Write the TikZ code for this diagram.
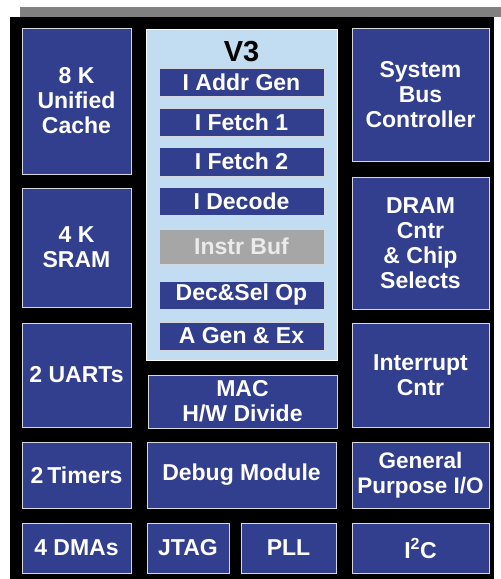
\documentclass[tikz,border=0pt]{standalone}
\usepackage{fontspec}
\setmainfont{Liberation Sans}
\definecolor{blkblue}{RGB}{50,62,142}
\definecolor{v3blue}{RGB}{194,221,241}
\definecolor{bargray}{RGB}{128,128,128}
\definecolor{bufgray}{RGB}{166,166,166}
\definecolor{edgegray}{RGB}{215,215,222}
\begin{document}
\begin{tikzpicture}[x=1pt,y=-1pt,
  blk/.style={draw=edgegray, line width=1pt, fill=blkblue, text=white, inner sep=0pt,
    align=center, font=\fontsize{23}{25}\selectfont\bfseries},
  stage/.style={blk, minimum width=165pt, minimum height=28pt},
  v3box/.style={draw=white, line width=1pt, fill=v3blue, inner sep=0pt}]
\useasboundingbox (0,0) rectangle (501,579);
\fill[white] (0,0) rectangle (501,579);
\fill[bargray] (20,7) rectangle (501,17);
\fill[black] (10,17) rectangle (494,579);
% left column
\node[blk, minimum width=109pt, minimum height=146pt] (cache) at (76.5,101) {8 K\\Unified\\Cache};
\node[blk, minimum width=109pt, minimum height=119pt] (sram) at (76.5,247.5) {4 K\\SRAM};
\node[blk, minimum width=109pt, minimum height=104pt] (uart) at (76.5,375) {2 UARTs};
\node[blk, minimum width=109pt, minimum height=66pt] (timers) at (76.5,475) {2\,Timers};
\node[blk, minimum width=109pt, minimum height=50pt] (dmas) at (76.5,548) {4 DMAs};
% V3 core
\node[v3box, minimum width=191pt, minimum height=331pt] (v3) at (241.5,194.5) {};
\node[font=\fontsize{29}{30}\selectfont\bfseries, inner sep=0pt] (v3lbl) at (241.5,52) {V3};
\node[stage] (iaddr) at (241.5,82) {I Addr Gen};
\node[stage] (if1) at (241.5,122) {I Fetch 1};
\node[stage, minimum height=29pt] (if2) at (241.5,161.5) {I Fetch 2};
\node[stage] (idec) at (241.5,201) {I Decode};
\node[stage, fill=bufgray, text={rgb,255:red,235;green,235;blue,235}, minimum height=35pt] (ibuf) at (241.5,246.5) {Instr Buf};
\node[stage] (decsel) at (241.5,295) {Dec\&Sel Op};
\node[stage] (agen) at (241.5,336) {A Gen \& Ex};
% middle lower
\node[blk, minimum width=189pt, minimum height=53pt] (mac) at (242.5,401.5) {MAC\\H/W Divide};
\node[blk, minimum width=189pt, minimum height=66pt] (debug) at (241.5,475) {Debug Module};
\node[blk, minimum width=82pt, minimum height=50pt] (jtag) at (188,548) {JTAG};
\node[blk, minimum width=95pt, minimum height=50pt] (pll) at (288.5,548) {PLL};
% right column
\node[blk, minimum width=137pt, minimum height=133pt] (sysbus) at (420.5,94.5) {System\\Bus\\Controller};
\node[blk, minimum width=137pt, minimum height=132pt] (dram) at (420.5,243) {DRAM\\Cntr\\\& Chip\\Selects};
\node[blk, minimum width=137pt, minimum height=104pt] (intr) at (420.5,375) {Interrupt\\Cntr};
\node[blk, minimum width=137pt, minimum height=66pt, font=\fontsize{22.5}{25}\selectfont\bfseries] (gpio) at (420.5,475) {General\\Purpose I/O};
\node[blk, minimum width=137pt, minimum height=50pt] (i2c) at (420.5,548) {I\textsuperscript{2}C};
\end{tikzpicture}
\end{document}
